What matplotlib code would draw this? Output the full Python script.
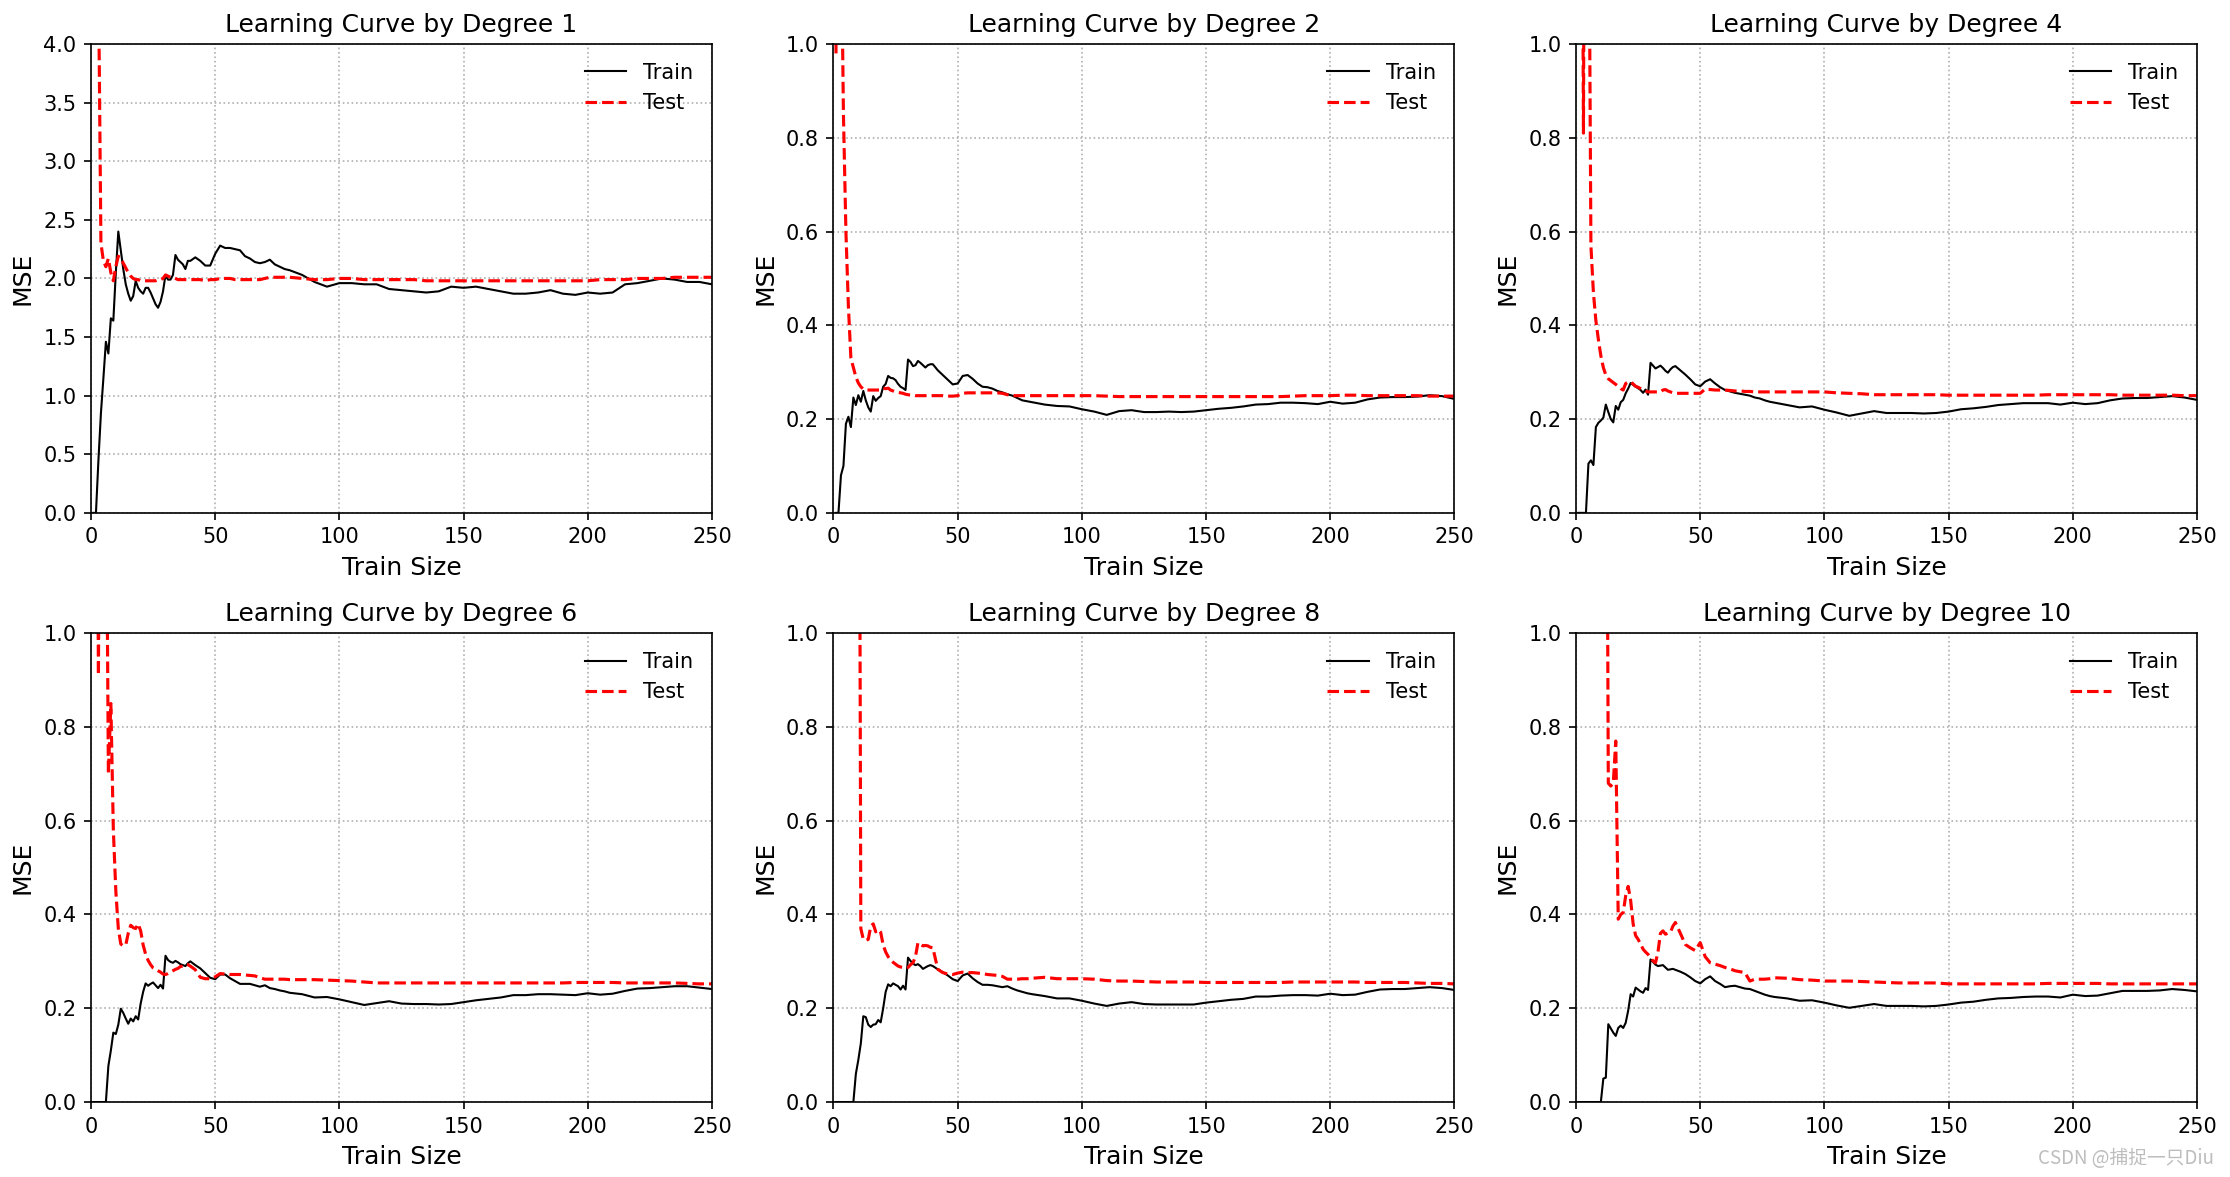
import matplotlib
matplotlib.use("Agg")
import matplotlib.pyplot as plt
import numpy as np

degrees = [1, 2, 4, 6, 8, 10]
# training-set sizes (x values)
train_sizes = list(range(1, 41)) + list(range(42, 81, 2)) + list(range(85, 251, 5))

# ---------------- Degree 1 ----------------
train_d1 = [0.0, 0.0, 0.45, 0.85, 1.15, 1.46, 1.36, 1.66, 1.64, 2.05,
            2.40, 2.24, 2.08, 1.95, 1.87, 1.81, 1.85, 1.98, 1.92, 1.89,
            1.87, 1.92, 1.92, 1.88, 1.83, 1.78, 1.75, 1.80, 1.89, 2.03,
            1.99, 1.99, 2.03, 2.20, 2.16, 2.14, 2.12, 2.08, 2.15, 2.15,
            2.18, 2.15, 2.11, 2.11, 2.21, 2.28, 2.26, 2.26, 2.25, 2.24,
            2.19, 2.17, 2.14, 2.13, 2.14, 2.16, 2.12, 2.10, 2.08, 2.07,
            2.03, 1.97, 1.93, 1.96, 1.96, 1.95, 1.95, 1.91, 1.90, 1.89,
            1.88, 1.89, 1.93, 1.92, 1.93, 1.91, 1.89, 1.87, 1.87, 1.88,
            1.90, 1.87, 1.86, 1.88, 1.87, 1.88, 1.95, 1.96, 1.98, 2.00,
            1.99, 1.97, 1.97, 1.95]
test_d1 = [9.0, 7.0, 4.6, 2.30, 2.15, 2.10, 2.17, 2.05, 1.98, 2.10,
           2.19, 2.17, 2.13, 2.09, 2.05, 2.02, 2.00, 1.99, 1.99, 1.98,
           1.98, 1.98, 1.98, 1.98, 1.98, 1.98, 1.99, 1.99, 2.00, 2.03,
           2.02, 2.01, 2.01, 2.00, 1.99, 1.99, 1.99, 1.99, 1.99, 1.99,
           1.99, 1.99, 1.98, 1.99, 1.99, 2.00, 2.00, 2.00, 1.99, 1.99,
           1.99, 1.99, 1.99, 1.99, 2.00, 2.01, 2.01, 2.01, 2.01, 2.01,
           2.00, 1.99, 1.99, 2.00, 2.00, 1.99, 1.99, 1.99, 1.99, 1.99,
           1.98, 1.98, 1.98, 1.98, 1.98, 1.98, 1.98, 1.98, 1.98, 1.98,
           1.98, 1.98, 1.98, 1.98, 1.99, 1.99, 1.99, 2.00, 2.00, 2.00,
           2.01, 2.01, 2.01, 2.01]

# ---------------- Degree 2 ----------------
train_d2 = [0.0, 0.0, 0.08, 0.10, 0.19, 0.205, 0.183, 0.246, 0.230, 0.251,
            0.237, 0.260, 0.240, 0.225, 0.216, 0.249, 0.239, 0.245, 0.249, 0.269,
            0.275, 0.292, 0.288, 0.287, 0.283, 0.275, 0.269, 0.266, 0.262, 0.327,
            0.322, 0.313, 0.315, 0.324, 0.320, 0.315, 0.310, 0.315, 0.317, 0.317,
            0.304, 0.294, 0.284, 0.274, 0.276, 0.292, 0.294, 0.286, 0.276, 0.269,
            0.268, 0.265, 0.260, 0.257, 0.253, 0.250, 0.245, 0.240, 0.238, 0.236,
            0.231, 0.228, 0.227, 0.221, 0.216, 0.209, 0.217, 0.219, 0.215, 0.215,
            0.216, 0.215, 0.216, 0.219, 0.222, 0.224, 0.227, 0.231, 0.232, 0.235,
            0.235, 0.234, 0.232, 0.237, 0.233, 0.235, 0.242, 0.246, 0.247, 0.247,
            0.248, 0.251, 0.249, 0.243]
test_d2 = [0.98, 2.5, 1.3, 0.85, 0.60, 0.44, 0.33, 0.31, 0.29, 0.277,
           0.269, 0.264, 0.262, 0.262, 0.262, 0.262, 0.262, 0.262, 0.262, 0.266,
           0.265, 0.266, 0.262, 0.260, 0.258, 0.257, 0.256, 0.255, 0.253, 0.252,
           0.251, 0.251, 0.250, 0.250, 0.250, 0.250, 0.250, 0.250, 0.250, 0.250,
           0.250, 0.250, 0.249, 0.249, 0.250, 0.255, 0.256, 0.256, 0.256, 0.256,
           0.256, 0.256, 0.256, 0.255, 0.252, 0.250, 0.250, 0.250, 0.250, 0.250,
           0.250, 0.250, 0.250, 0.250, 0.250, 0.249, 0.248, 0.248, 0.248, 0.248,
           0.248, 0.248, 0.248, 0.248, 0.248, 0.248, 0.248, 0.248, 0.248, 0.248,
           0.249, 0.250, 0.250, 0.250, 0.251, 0.251, 0.250, 0.250, 0.250, 0.250,
           0.250, 0.249, 0.249, 0.249]

# ---------------- Degree 4 ----------------
train_d4 = [0.0, 0.0, 0.0, 0.0, 0.105, 0.112, 0.102, 0.183, 0.192, 0.197,
            0.203, 0.231, 0.215, 0.200, 0.193, 0.228, 0.220, 0.236, 0.241, 0.255,
            0.265, 0.277, 0.273, 0.269, 0.266, 0.262, 0.256, 0.263, 0.252, 0.320,
            0.314, 0.308, 0.311, 0.314, 0.309, 0.303, 0.299, 0.306, 0.311, 0.313,
            0.304, 0.295, 0.285, 0.274, 0.270, 0.280, 0.285, 0.276, 0.268, 0.262,
            0.259, 0.256, 0.254, 0.252, 0.250, 0.246, 0.244, 0.240, 0.237, 0.235,
            0.230, 0.225, 0.227, 0.220, 0.214, 0.207, 0.212, 0.217, 0.213, 0.213,
            0.213, 0.212, 0.213, 0.216, 0.221, 0.223, 0.226, 0.230, 0.232, 0.234,
            0.234, 0.234, 0.231, 0.235, 0.232, 0.234, 0.240, 0.244, 0.245, 0.245,
            0.247, 0.249, 0.246, 0.241]
test_d4 = [3.0, 2.0, 0.81, 2.5, 1.5, 0.57, 0.47, 0.41, 0.37, 0.335,
           0.310, 0.294, 0.286, 0.282, 0.278, 0.274, 0.270, 0.265, 0.262, 0.276,
           0.279, 0.280, 0.275, 0.270, 0.268, 0.265, 0.262, 0.260, 0.258, 0.258,
           0.258, 0.258, 0.258, 0.258, 0.262, 0.263, 0.260, 0.258, 0.256, 0.255,
           0.255, 0.255, 0.255, 0.255, 0.255, 0.264, 0.263, 0.262, 0.262, 0.262,
           0.261, 0.260, 0.260, 0.259, 0.259, 0.258, 0.258, 0.258, 0.258, 0.258,
           0.258, 0.258, 0.258, 0.258, 0.256, 0.255, 0.254, 0.252, 0.252, 0.252,
           0.252, 0.252, 0.252, 0.251, 0.251, 0.251, 0.251, 0.251, 0.251, 0.251,
           0.251, 0.252, 0.252, 0.252, 0.252, 0.252, 0.252, 0.251, 0.251, 0.251,
           0.251, 0.251, 0.250, 0.250]

# ---------------- Degree 6 ----------------
train_d6 = [0.0, 0.0, 0.0, 0.0, 0.0, 0.0, 0.077, 0.110, 0.148, 0.145,
            0.165, 0.199, 0.190, 0.178, 0.167, 0.178, 0.172, 0.183, 0.176, 0.210,
            0.235, 0.253, 0.248, 0.252, 0.255, 0.249, 0.243, 0.250, 0.242, 0.312,
            0.303, 0.299, 0.297, 0.301, 0.298, 0.294, 0.292, 0.290, 0.296, 0.300,
            0.292, 0.285, 0.275, 0.265, 0.262, 0.272, 0.272, 0.264, 0.258, 0.252,
            0.252, 0.252, 0.249, 0.246, 0.249, 0.243, 0.241, 0.238, 0.236, 0.233,
            0.230, 0.223, 0.224, 0.219, 0.213, 0.207, 0.211, 0.215, 0.210, 0.209,
            0.209, 0.208, 0.209, 0.213, 0.217, 0.220, 0.223, 0.228, 0.228, 0.230,
            0.230, 0.229, 0.228, 0.232, 0.229, 0.231, 0.237, 0.242, 0.243, 0.245,
            0.247, 0.247, 0.244, 0.241]
test_d6 = [2.5, 1.8, 0.91, 2.0, 3.0, 1.5, 0.70, 0.85, 0.58, 0.45,
           0.37, 0.337, 0.333, 0.335, 0.360, 0.377, 0.372, 0.370, 0.380, 0.365,
           0.335, 0.315, 0.302, 0.293, 0.286, 0.283, 0.280, 0.277, 0.273, 0.272,
           0.274, 0.277, 0.280, 0.283, 0.285, 0.289, 0.290, 0.294, 0.293, 0.290,
           0.282, 0.266, 0.263, 0.263, 0.267, 0.274, 0.273, 0.272, 0.272, 0.272,
           0.271, 0.270, 0.269, 0.265, 0.262, 0.262, 0.262, 0.262, 0.262, 0.261,
           0.261, 0.261, 0.260, 0.259, 0.258, 0.256, 0.254, 0.254, 0.254, 0.254,
           0.254, 0.254, 0.254, 0.254, 0.254, 0.254, 0.254, 0.254, 0.254, 0.254,
           0.254, 0.254, 0.255, 0.255, 0.255, 0.255, 0.254, 0.254, 0.254, 0.254,
           0.254, 0.253, 0.252, 0.252]

# ---------------- Degree 8 ----------------
train_d8 = [0.0, 0.0, 0.0, 0.0, 0.0, 0.0, 0.0, 0.0, 0.06, 0.09,
            0.125, 0.183, 0.181, 0.165, 0.160, 0.165, 0.166, 0.175, 0.170, 0.200,
            0.235, 0.251, 0.247, 0.253, 0.250, 0.247, 0.240, 0.248, 0.240, 0.308,
            0.301, 0.295, 0.292, 0.294, 0.290, 0.284, 0.287, 0.290, 0.292, 0.290,
            0.283, 0.277, 0.270, 0.262, 0.258, 0.270, 0.274, 0.264, 0.256, 0.250,
            0.250, 0.249, 0.247, 0.245, 0.247, 0.242, 0.238, 0.235, 0.232, 0.230,
            0.226, 0.221, 0.221, 0.216, 0.210, 0.205, 0.210, 0.213, 0.209, 0.208,
            0.208, 0.208, 0.208, 0.212, 0.215, 0.218, 0.220, 0.225, 0.225, 0.227,
            0.228, 0.228, 0.227, 0.231, 0.228, 0.229, 0.235, 0.240, 0.241, 0.241,
            0.243, 0.245, 0.243, 0.239]
test_d8 = [9.0, 7.5, 6.0, 5.2, 4.5, 3.9, 3.4, 3.0, 2.6, 2.3,
           0.370, 0.347, 0.345, 0.347, 0.375, 0.380, 0.363, 0.368, 0.362, 0.335,
           0.320, 0.310, 0.303, 0.298, 0.294, 0.290, 0.288, 0.287, 0.286, 0.287,
           0.293, 0.297, 0.310, 0.340, 0.336, 0.333, 0.334, 0.333, 0.330, 0.329,
           0.283, 0.276, 0.273, 0.272, 0.275, 0.277, 0.276, 0.276, 0.275, 0.274,
           0.272, 0.271, 0.270, 0.268, 0.262, 0.262, 0.262, 0.263, 0.263, 0.264,
           0.266, 0.263, 0.263, 0.263, 0.262, 0.259, 0.258, 0.258, 0.257, 0.256,
           0.256, 0.256, 0.256, 0.255, 0.255, 0.255, 0.255, 0.255, 0.255, 0.255,
           0.256, 0.256, 0.256, 0.256, 0.256, 0.256, 0.255, 0.255, 0.255, 0.255,
           0.254, 0.253, 0.253, 0.252]

# ---------------- Degree 10 ----------------
train_d10 = [0.0, 0.0, 0.0, 0.0, 0.0, 0.0, 0.0, 0.0, 0.0, 0.0,
             0.050, 0.052, 0.166, 0.157, 0.148, 0.141, 0.158, 0.163, 0.158, 0.169,
             0.195, 0.230, 0.225, 0.244, 0.240, 0.236, 0.233, 0.243, 0.239, 0.304,
             0.299, 0.293, 0.290, 0.291, 0.292, 0.287, 0.282, 0.283, 0.284, 0.282,
             0.278, 0.273, 0.266, 0.258, 0.253, 0.262, 0.268, 0.258, 0.252, 0.245,
             0.247, 0.248, 0.245, 0.242, 0.241, 0.237, 0.233, 0.229, 0.226, 0.224,
             0.221, 0.216, 0.217, 0.212, 0.206, 0.201, 0.205, 0.209, 0.205, 0.205,
             0.205, 0.204, 0.205, 0.208, 0.212, 0.214, 0.218, 0.221, 0.222, 0.224,
             0.225, 0.225, 0.223, 0.229, 0.226, 0.227, 0.232, 0.237, 0.237, 0.237,
             0.238, 0.241, 0.239, 0.236]
test_d10 = [9.0, 7.8, 6.5, 5.6, 4.9, 4.3, 3.8, 3.3, 2.9, 2.6,
            2.3, 2.0, 0.680, 0.674, 0.680, 0.770, 0.390, 0.400, 0.404, 0.440,
            0.460, 0.430, 0.380, 0.355, 0.347, 0.337, 0.326, 0.320, 0.315, 0.308,
            0.301, 0.297, 0.320, 0.360, 0.365, 0.358, 0.360, 0.362, 0.375, 0.383,
            0.360, 0.336, 0.329, 0.323, 0.340, 0.310, 0.297, 0.294, 0.291, 0.287,
            0.284, 0.280, 0.278, 0.276, 0.258, 0.262, 0.262, 0.262, 0.263, 0.265,
            0.264, 0.261, 0.260, 0.258, 0.258, 0.258, 0.257, 0.256, 0.255, 0.254,
            0.254, 0.254, 0.254, 0.252, 0.252, 0.252, 0.252, 0.252, 0.252, 0.252,
            0.252, 0.253, 0.253, 0.253, 0.253, 0.253, 0.252, 0.252, 0.252, 0.252,
            0.252, 0.252, 0.252, 0.252]

train_sets = [train_d1, train_d2, train_d4, train_d6, train_d8, train_d10]
test_sets = [test_d1, test_d2, test_d4, test_d6, test_d8, test_d10]
y_max = [4.0, 1.0, 1.0, 1.0, 1.0, 1.0]
y_step = [0.5, 0.2, 0.2, 0.2, 0.2, 0.2]

for s in train_sets + test_sets:
    assert len(s) == len(train_sizes), (len(s), len(train_sizes))

fig, axes = plt.subplots(2, 3, figsize=(2230 / 150, 1177 / 150), dpi=150)
fig.subplots_adjust(left=0.0408, right=0.9852, bottom=0.0637, top=0.9626,
                    wspace=0.1957, hspace=0.2566)

for ax, d, tr, te, ym, st in zip(axes.flat, degrees, train_sets, test_sets, y_max, y_step):
    ax.plot(train_sizes, tr, color="black", lw=1.0, label="Train")
    ax.plot(train_sizes, te, color="red", ls="--", lw=1.5, label="Test")
    ax.set_xlim(0, 250)
    ax.set_ylim(0, ym)
    ax.set_xticks([0, 50, 100, 150, 200, 250])
    ax.set_yticks(np.arange(0, ym + st / 2, st))
    ax.set_title(f"Learning Curve by Degree {d}", fontsize=12)
    ax.set_xlabel("Train Size", fontsize=12)
    ax.set_ylabel("MSE", fontsize=12)
    ax.grid(True, linestyle=":")
    ax.legend(loc="upper right", frameon=False)

fig.text(0.9928, 0.0153, "CSDN @捕捉一只Diu", ha="right", va="center",
         fontsize=9, color="#bdbdbd", family=["Noto Sans CJK SC", "DejaVu Sans"])

fig.savefig("out.png", dpi=150)
